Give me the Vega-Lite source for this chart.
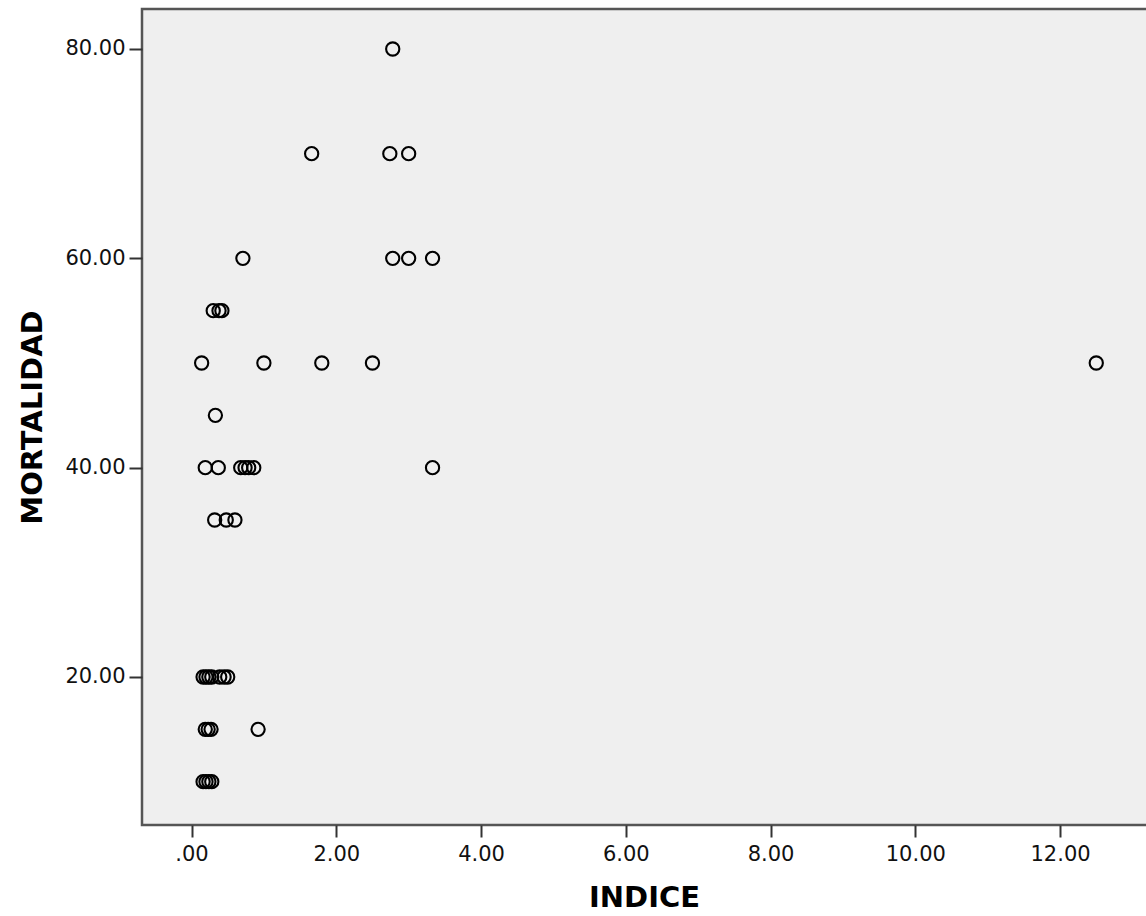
{
  "$schema": "https://vega.github.io/schema/vega-lite/v6.json",
  "autosize": "none",
  "width": 1010,
  "height": 816,
  "padding": {"left": 142, "top": 9, "right": 0, "bottom": 91},
  "background": "white",
  "config": {
    "view": {"fill": "#efefef", "stroke": "#555555", "strokeWidth": 2.5}
  },
  "data": {
    "values": [
      {"INDICE": 2.78, "MORTALIDAD": 80},
      {"INDICE": 1.66, "MORTALIDAD": 70},
      {"INDICE": 2.74, "MORTALIDAD": 70},
      {"INDICE": 3.00, "MORTALIDAD": 70},
      {"INDICE": 0.71, "MORTALIDAD": 60},
      {"INDICE": 2.78, "MORTALIDAD": 60},
      {"INDICE": 3.00, "MORTALIDAD": 60},
      {"INDICE": 3.33, "MORTALIDAD": 60},
      {"INDICE": 0.30, "MORTALIDAD": 55},
      {"INDICE": 0.38, "MORTALIDAD": 55},
      {"INDICE": 0.42, "MORTALIDAD": 55},
      {"INDICE": 0.14, "MORTALIDAD": 50},
      {"INDICE": 1.00, "MORTALIDAD": 50},
      {"INDICE": 1.80, "MORTALIDAD": 50},
      {"INDICE": 2.50, "MORTALIDAD": 50},
      {"INDICE": 12.50, "MORTALIDAD": 50},
      {"INDICE": 0.33, "MORTALIDAD": 45},
      {"INDICE": 0.19, "MORTALIDAD": 40},
      {"INDICE": 0.37, "MORTALIDAD": 40},
      {"INDICE": 0.68, "MORTALIDAD": 40},
      {"INDICE": 0.74, "MORTALIDAD": 40},
      {"INDICE": 0.79, "MORTALIDAD": 40},
      {"INDICE": 0.86, "MORTALIDAD": 40},
      {"INDICE": 3.33, "MORTALIDAD": 40},
      {"INDICE": 0.32, "MORTALIDAD": 35},
      {"INDICE": 0.48, "MORTALIDAD": 35},
      {"INDICE": 0.60, "MORTALIDAD": 35},
      {"INDICE": 0.16, "MORTALIDAD": 20},
      {"INDICE": 0.20, "MORTALIDAD": 20},
      {"INDICE": 0.24, "MORTALIDAD": 20},
      {"INDICE": 0.28, "MORTALIDAD": 20},
      {"INDICE": 0.39, "MORTALIDAD": 20},
      {"INDICE": 0.45, "MORTALIDAD": 20},
      {"INDICE": 0.50, "MORTALIDAD": 20},
      {"INDICE": 0.19, "MORTALIDAD": 15},
      {"INDICE": 0.23, "MORTALIDAD": 15},
      {"INDICE": 0.27, "MORTALIDAD": 15},
      {"INDICE": 0.92, "MORTALIDAD": 15},
      {"INDICE": 0.16, "MORTALIDAD": 10},
      {"INDICE": 0.20, "MORTALIDAD": 10},
      {"INDICE": 0.24, "MORTALIDAD": 10},
      {"INDICE": 0.28, "MORTALIDAD": 10}
    ]
  },
  "mark": {"type": "point", "shape": "circle", "filled": false, "stroke": "#000000", "strokeWidth": 2.1, "size": 175, "opacity": 1, "clip": true},
  "encoding": {
    "x": {
      "field": "INDICE",
      "type": "quantitative",
      "scale": {"domain": [-0.684, 13.27], "nice": false, "zero": false},
      "axis": {
        "values": [0, 2, 4, 6, 8, 10, 12],
        "labelExpr": "datum.value == 0 ? '.00' : format(datum.value, '.2f')",
        "grid": false,
        "domain": false,
        "tickSize": 12,
        "tickWidth": 2,
        "tickColor": "#333333",
        "labelFont": "DejaVu Sans",
        "labelFontSize": 21,
        "labelColor": "#111111",
        "labelPadding": 6,
        "title": "INDICE",
        "titleFont": "DejaVu Sans",
        "titleFontWeight": "bold",
        "titleFontSize": 29,
        "titleColor": "#000000",
        "titleX": 502,
        "titleY": 72,
        "titleBaseline": "middle",
        "titleAlign": "center"
      }
    },
    "y": {
      "field": "MORTALIDAD",
      "type": "quantitative",
      "scale": {"domain": [5.86, 83.82], "nice": false, "zero": false},
      "axis": {
        "values": [20, 40, 60, 80],
        "labelExpr": "format(datum.value, '.2f')",
        "grid": false,
        "domain": false,
        "tickSize": 13,
        "tickWidth": 2,
        "tickColor": "#333333",
        "labelFont": "DejaVu Sans",
        "labelFontSize": 21,
        "labelColor": "#111111",
        "labelPadding": 4,
        "title": "MORTALIDAD",
        "titleFont": "DejaVu Sans",
        "titleFontWeight": "bold",
        "titleFontSize": 29,
        "titleColor": "#000000",
        "titleAngle": -90,
        "titleX": -110,
        "titleY": 408,
        "titleBaseline": "middle",
        "titleAlign": "center"
      }
    }
  }
}
